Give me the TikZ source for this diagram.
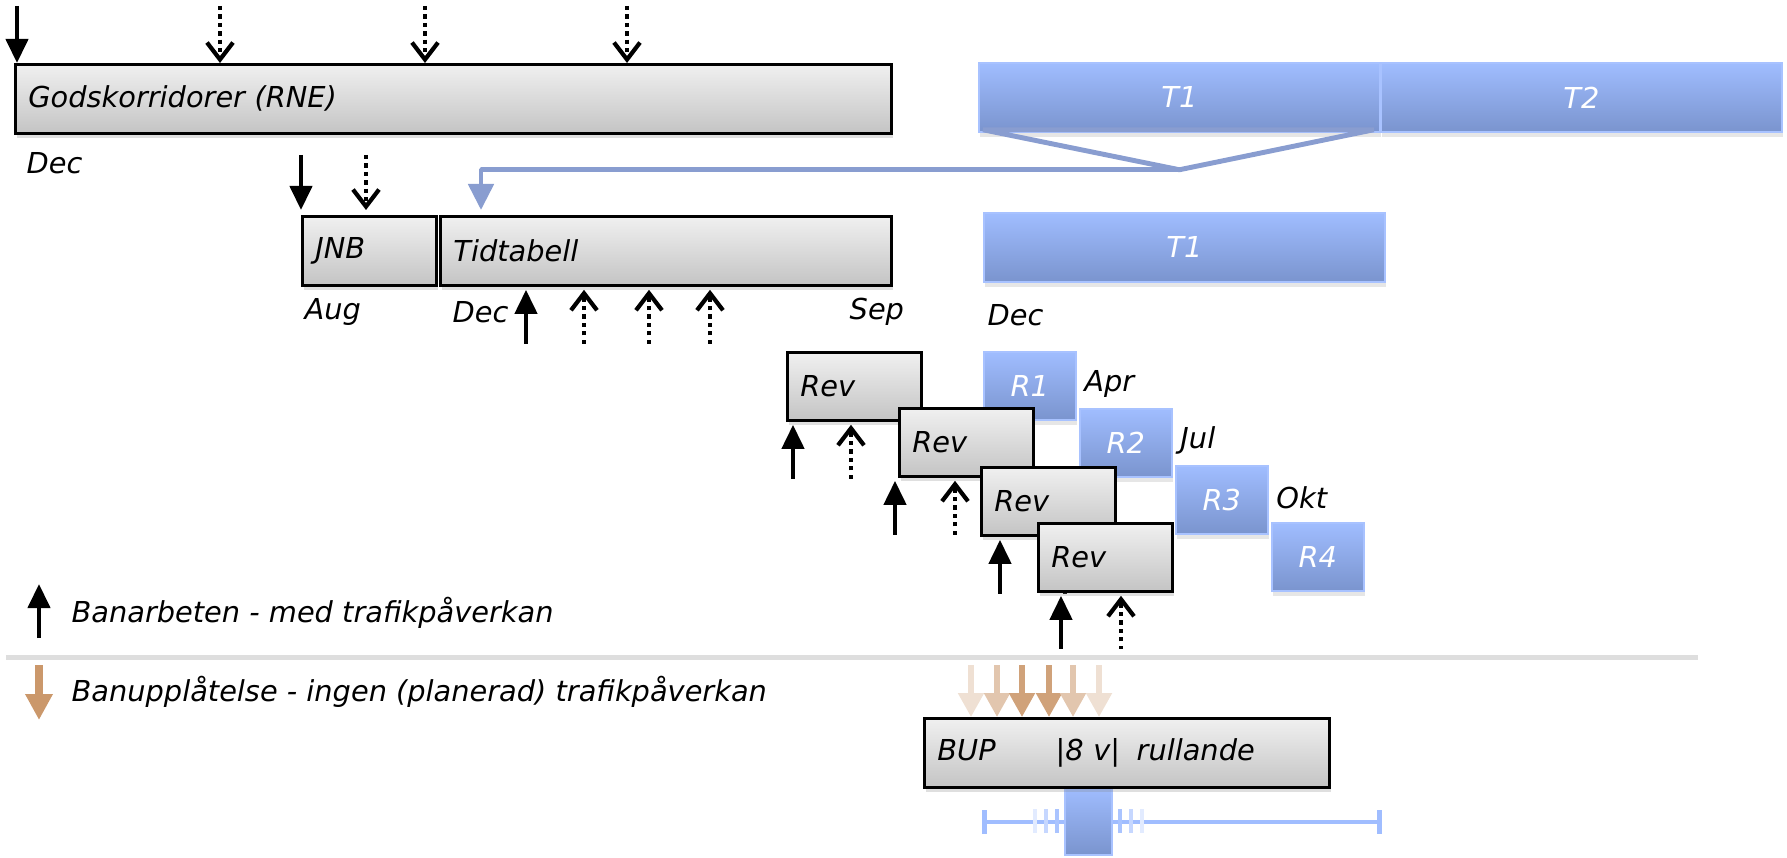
\documentclass[tikz,border=0pt]{standalone}
\usepackage{fontspec}
\setmainfont{DejaVu Sans}
\usetikzlibrary{arrows.meta, shadows}
\definecolor{boxtop}{RGB}{240,240,240}
\definecolor{boxbot}{RGB}{196,196,196}
\definecolor{bluetop}{RGB}{160,189,255}
\definecolor{bluebot}{RGB}{122,148,206}
\definecolor{blueedge}{RGB}{168,194,255}
\definecolor{funnelblue}{RGB}{137,157,208}
\definecolor{bupbrown}{RGB}{203,152,107}
\tikzset{
  gbox/.style={draw=black, line width=0.8pt, top color=boxtop, bottom color=boxbot,
    drop shadow={shadow xshift=0.4pt, shadow yshift=-1.4pt, opacity=0.25},
    anchor=north west, minimum height=0.69cm, inner xsep=0.13cm, align=left},
  bbox/.style={draw=blueedge, line width=0.5pt, top color=bluetop, bottom color=bluebot,
    drop shadow={shadow xshift=0.4pt, shadow yshift=-1.4pt, opacity=0.2},
    text=white, anchor=north west, minimum height=0.69cm},
  lbl/.style={anchor=west, inner sep=0pt},
  solidarr/.style={line width=1.2pt, -{Triangle[width=0.22cm, length=0.24cm]}},
  dotarr/.style={line width=1.2pt, dash pattern=on 1.2pt off 1.2pt,
    -{Straight Barb[width=0.26cm, length=0.17cm]}},
  buparr/.style={line width=1.5pt, -{Triangle[width=0.25cm, length=0.24cm]}},
  funnel/.style={line width=1.4pt, draw=funnelblue, line join=bevel},
}
\begin{document}
\begin{tikzpicture}[font=\fontsize{8.2}{10}\selectfont\itshape]
\useasboundingbox (0,0) rectangle (17.87,8.57);

% top row
\node[gbox, text width=8.50cm] (gods) at (0.14,7.94) {Godskorridorer (RNE)};
\foreach \dx/\sty [count=\i] in {0.03/solidarr, 2.06/dotarr, 4.11/dotarr, 6.13/dotarr}{
  \coordinate (gtip\i) at ([xshift=\dx cm]gods.north west);
  \draw[\sty] ([yshift=0.57cm]gtip\i) -- (gtip\i);
}
\node[lbl] (dec1) at (0.26,6.94) {Dec};

\node[bbox, minimum width=4.01cm] (t1) at (9.78,7.95) {T1};
\node[bbox, minimum width=4.01cm] (t2) at (13.80,7.95) {T2};

% JNB / Tidtabell
\node[gbox, text width=1.08cm] (jnb) at (3.01,6.42) {JNB};
\node[gbox, text width=4.25cm] (tid) at (4.39,6.42) {Tidtabell};
\foreach \dx/\sty [count=\i] in {0.0/solidarr, 0.65/dotarr}{
  \coordinate (jtip\i) at ([xshift=\dx cm, yshift=0.05cm]jnb.north west);
  \draw[\sty] ([yshift=0.55cm]jtip\i) -- (jtip\i);
}
\foreach \dx/\sty [count=\i] in {0.87/solidarr, 1.45/dotarr, 2.10/dotarr, 2.71/dotarr}{
  \coordinate (ttip\i) at ([xshift=\dx cm, yshift=-0.03cm]tid.south west);
  \draw[\sty] ([yshift=-0.54cm]ttip\i) -- (ttip\i);
}
\node[lbl] (aug) at (3.04,5.45) {Aug};
\node[lbl] (dec2) at (4.52,5.45) {Dec};
\node[lbl] (sep) at (8.49,5.45) {Sep};

% funnel from T1 down to Tidtabell
\coordinate (apex) at ([yshift=-0.37cm]t1.south);
\coordinate (ftip) at ([xshift=0.42cm, yshift=0.05cm]tid.north west);
\draw[funnel] ([xshift=0.05cm, yshift=0.03cm]t1.south west)
  -- ([xshift=-0.07cm, yshift=0.03cm]t1.south east) -- (apex) -- cycle;
\draw[funnel, -{Triangle[width=0.25cm, length=0.26cm]}] (apex) -| (ftip);

\node[bbox, minimum width=4.01cm] (t1b) at (9.83,6.45) {T1};
\node[lbl] (dec3) at (9.87,5.42) {Dec};

% revisions
\foreach \i in {1,...,4}{
  \node[bbox, minimum width=0.92cm, minimum height=0.68cm] (r\i)
    at ({9.83+0.96*(\i-1)},{5.06-0.57*(\i-1)}) {R\i};
}
\foreach \m [count=\i] in {Apr, Jul, Okt}{
  \node[lbl] (m\i) at ([xshift=0.07cm, yshift=0.02cm]r\i.east) {\m};
}
\foreach \x/\y/\s/\d [count=\i] in {7.86/5.06/0.07/0.65, 8.98/4.50/-0.03/0.57,
    9.80/3.91/0.20/0.85, 10.37/3.35/0.24/0.84}{
  \node[gbox, text width=1.08cm, minimum height=0.68cm] (rev\i) at (\x,\y) {Rev};
  \coordinate (rs\i) at ([xshift=\s cm, yshift=-0.03cm]rev\i.south west);
  \coordinate (rd\i) at ([xshift=\d cm, yshift=-0.03cm]rev\i.south west);
  \draw[solidarr] ([yshift=-0.54cm]rs\i) -- (rs\i);
  \draw[dotarr] ([yshift=-0.54cm]rd\i) -- (rd\i);
}

% separator
\coordinate (sepl) at (0.06,2.05);
\coordinate (sepr) at (16.98,2.05);
\draw[black!13, line width=2.6pt] ([yshift=-0.035cm]sepl) -- ([yshift=-0.035cm]sepr);
\draw[white, line width=1.6pt] (sepl) -- (sepr);

% legend
\coordinate (lega) at (0.39,2.19);
\coordinate (legb) at (0.39,2.73);
\draw[solidarr] (lega) -- (legb);
\node[lbl] (leg1) at (0.71,2.44) {Banarbeten - med trafikpåverkan};
\coordinate (legc) at (0.39,1.92);
\coordinate (legd) at (0.39,1.37);
\draw[bupbrown, line width=2pt, -{Triangle[width=0.26cm, length=0.26cm]}] (legc) -- (legd);
\node[lbl] (leg2) at (0.71,1.65) {Banupplåtelse - ingen (planerad) trafikpåverkan};

% BUP
\coordinate (bl) at (9.82,0.35);
\coordinate (br) at (13.82,0.35);
\draw[bluetop, line width=1.4pt, {Bar[width=0.24cm]}-{Bar[width=0.24cm]}] (bl) -- (br);
\foreach \x/\o in {10.35/30, 10.46/60, 10.57/90, 11.20/90, 11.31/60, 11.42/30}{
  \draw[bluetop!\o, line width=1.4pt] (\x,0.24) -- (\x,0.48);
}
\fill[draw=blueedge, line width=0.5pt, top color=bluetop, bottom color=bluebot]
  (10.65,0.70) rectangle (11.12,0.02);
\node[gbox, text width=3.79cm] (bup) at (9.23,1.40)
  {BUP\hspace{0.60cm}|8 v|\hspace{0.07cm} rullande};
\foreach \dx/\o [count=\i] in {0.48/30, 0.74/55, 0.99/90, 1.26/90, 1.50/55, 1.76/30}{
  \coordinate (btip\i) at ([xshift=\dx cm]bup.north west);
  \draw[buparr, bupbrown!\o] ([yshift=0.52cm]btip\i) -- (btip\i);
}
\end{tikzpicture}
\end{document}
